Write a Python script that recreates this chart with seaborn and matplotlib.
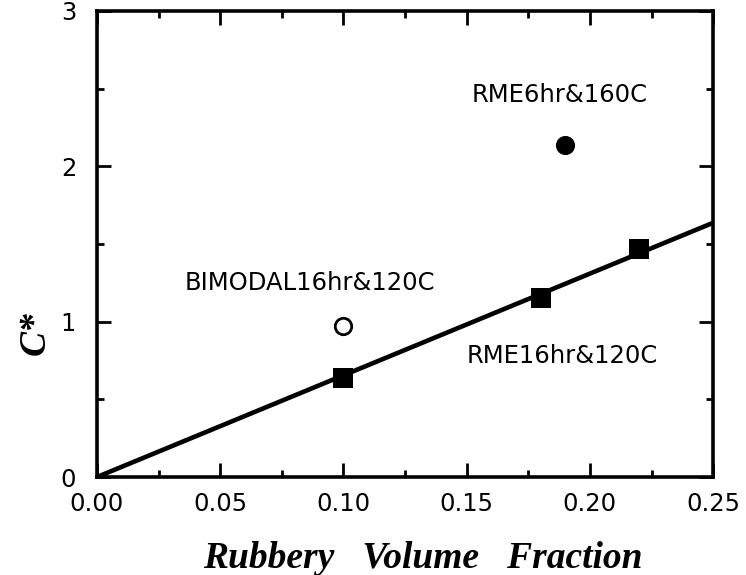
import numpy as np
import pandas as pd
import matplotlib
matplotlib.use("Agg")
import matplotlib.pyplot as plt
from matplotlib.ticker import MultipleLocator, FixedLocator
import seaborn as sns

# Rubbery volume fraction vs C*
rme16_x = [0.10, 0.18, 0.22]
rme16_y = [0.64, 1.15, 1.47]
rme6_x = [0.19]
rme6_y = [2.14]
bimodal_x = [0.10]
bimodal_y = [0.97]

labels = ["RME16hr&120C", "RME6hr&160C", "BIMODAL16hr&120C"]
x_ticks = [0.00, 0.05, 0.10, 0.15, 0.20, 0.25]
x_ticklabels = ["0.00", "0.05", "0.10", "0.15", "0.20", "0.25"]
y_ticks = [0, 1, 2, 3]
y_ticklabels = ["0", "1", "2", "3"]

sns.set_style("ticks")
plt.rcParams["font.family"] = ["DejaVu Sans"]
plt.rcParams["text.color"] = "black"
plt.rcParams["axes.labelcolor"] = "black"
plt.rcParams["xtick.color"] = "black"
plt.rcParams["ytick.color"] = "black"

fig = plt.figure(figsize=(7.46, 5.75), dpi=100)
ax = fig.add_axes([0.130, 0.1704, 0.826, 0.8106])

# Straight line through the origin fitted to the RME16hr series
xs = np.array(rme16_x)
ys = np.array(rme16_y)
slope = float(np.sum(xs * ys) / np.sum(xs * xs))
fit = pd.DataFrame({"x": [0.0, 0.25]})
fit["y"] = slope * fit["x"]
sns.lineplot(data=fit, x="x", y="y", color="black", lw=3.3, ax=ax)

sns.scatterplot(x=rme16_x, y=rme16_y, marker="s", s=210, color="black",
                edgecolor="black", linewidth=0, ax=ax, zorder=3)
sns.scatterplot(x=rme6_x, y=rme6_y, marker="o", s=190, color="black",
                edgecolor="black", linewidth=0, ax=ax, zorder=3)
sns.scatterplot(x=bimodal_x, y=bimodal_y, marker="o", s=140, facecolor="white",
                edgecolor="black", linewidth=2.0, ax=ax, zorder=3)

ax.text(0.150, 0.78, labels[0], fontsize=17.5, ha="left", va="center", color="black")
ax.text(0.152, 2.46, labels[1], fontsize=17.5, ha="left", va="center", color="black")
ax.text(0.0357, 1.25, labels[2], fontsize=17.5, ha="left", va="center", color="black")

ax.set_xlim(0, 0.25)
ax.set_ylim(0, 3)
ax.xaxis.set_major_locator(FixedLocator(x_ticks))
ax.xaxis.set_minor_locator(MultipleLocator(0.025))
ax.yaxis.set_major_locator(FixedLocator(y_ticks))
ax.yaxis.set_minor_locator(MultipleLocator(0.5))
ax.set_xticklabels(x_ticklabels)
ax.set_yticklabels(y_ticklabels)

ax.tick_params(which="both", direction="in", top=True, right=True,
               width=2.0, labelsize=17.5, colors="black")
ax.tick_params(which="major", length=10)
ax.tick_params(which="minor", length=5)
ax.tick_params(axis="x", which="major", pad=11)
ax.tick_params(axis="y", which="major", pad=15)

for sp in ax.spines.values():
    sp.set_linewidth(2.6)
    sp.set_color("black")

serif_bi = dict(family="Liberation Serif", fontweight="bold", fontstyle="italic",
                fontsize=27, color="black")
ax.set_xlabel("Rubbery   Volume   Fraction", va="center", **serif_bi)
ax.set_ylabel("C*", va="center", **serif_bi)
ax.xaxis.set_label_coords(0.528, -0.174)
ax.yaxis.set_label_coords(-0.10, 0.309)

fig.savefig("out.png", dpi=100, facecolor="white")
